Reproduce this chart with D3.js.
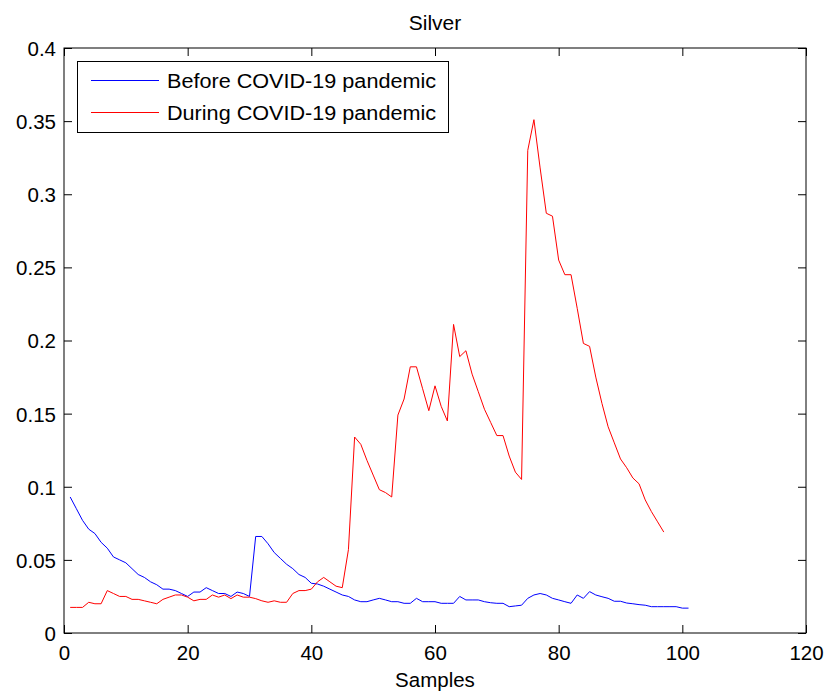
<!DOCTYPE html>
<html>
<head>
<meta charset="utf-8">
<script src="https://cdn.jsdelivr.net/npm/d3@7"></script>
<style>
  html, body { margin: 0; padding: 0; background: #fff; }
  svg { display: block; }
  text { font-family: "Liberation Sans", Arial, Helvetica, sans-serif; fill: #000; }
</style>
</head>
<body>
<svg id="chart" width="826" height="692"></svg>
<script>
// ---- data ----
const title = "Silver";
const xLabel = "Samples";
const seriesNames = ["Before COVID-19 pandemic", "During COVID-19 pandemic"];
const xTicks = [0, 20, 40, 60, 80, 100, 120];
const yTicks = [0, 0.05, 0.1, 0.15, 0.2, 0.25, 0.3, 0.35, 0.4];

const beforeValues = [
  0.093, 0.085, 0.077, 0.071, 0.068, 0.062, 0.058, 0.052, 0.050, 0.048,
  0.044, 0.040, 0.038, 0.035, 0.033, 0.030, 0.030, 0.029, 0.027, 0.025,
  0.028, 0.028, 0.031, 0.029, 0.027, 0.027, 0.025, 0.028, 0.027, 0.025,
  0.066, 0.066, 0.061, 0.055, 0.051, 0.047, 0.044, 0.040, 0.038, 0.034,
  0.0335, 0.032, 0.030, 0.028, 0.026, 0.025, 0.0226, 0.0214, 0.0214, 0.0226,
  0.0237, 0.0226, 0.0214, 0.0214, 0.0203, 0.0203, 0.0237, 0.0214, 0.0214, 0.0214,
  0.0203, 0.0203, 0.0203, 0.025, 0.0226, 0.0226, 0.0226, 0.0214, 0.0207, 0.0203,
  0.0203, 0.018, 0.0185, 0.019, 0.0237, 0.026, 0.027, 0.026, 0.0237, 0.0226,
  0.0214, 0.0203, 0.026, 0.0237, 0.0283, 0.026, 0.0248, 0.0237, 0.0217, 0.0217,
  0.0205, 0.020, 0.0194, 0.019, 0.018, 0.018, 0.018, 0.018, 0.018, 0.017,
  0.017
];

const duringValues = [
  0.0175, 0.0175, 0.0175, 0.021, 0.020, 0.020, 0.029, 0.027, 0.025, 0.025,
  0.023, 0.023, 0.022, 0.021, 0.020, 0.023, 0.0245, 0.026, 0.026, 0.0245,
  0.022, 0.023, 0.023, 0.026, 0.0245, 0.026, 0.0235, 0.026, 0.0245, 0.0245,
  0.0235, 0.022, 0.021, 0.022, 0.021, 0.021, 0.027, 0.029, 0.029, 0.030,
  0.035, 0.038, 0.035, 0.032, 0.031, 0.057, 0.134, 0.129, 0.118, 0.108,
  0.098, 0.096, 0.093, 0.149, 0.160, 0.182, 0.182, 0.167, 0.152, 0.169,
  0.155, 0.145, 0.211, 0.189, 0.193, 0.177, 0.165, 0.153, 0.144, 0.135,
  0.135, 0.121, 0.110, 0.105, 0.330, 0.351, 0.318, 0.287, 0.285, 0.255,
  0.245, 0.245, 0.222, 0.198, 0.196, 0.175, 0.157, 0.141, 0.130, 0.119,
  0.113, 0.106, 0.102, 0.091, 0.083, 0.076, 0.069
];

const seriesColors = ["#0000ff", "#ff0000"];

// ---- layout ----
const plotL = 64, plotR = 806, plotT = 48, plotB = 633;
const fontSize = 20.5;
const svg = d3.select("#chart");

const x = d3.scaleLinear().domain([0, 120]).range([plotL, plotR]);
const y = d3.scaleLinear().domain([0, 0.4]).range([plotB, plotT]);

const fmt = d3.format("~g");

function styleAxis(g, labels) {
  g.select(".domain").remove();
  g.selectAll(".tick line").attr("stroke", "#000").attr("stroke-width", 1);
  if (!labels) g.selectAll(".tick text").remove();
}

// bottom axis
const gx = svg.append("g")
  .attr("transform", `translate(0,${plotB})`)
  .call(d3.axisBottom(x).tickValues(xTicks).tickFormat(fmt).tickSizeInner(-8).tickSizeOuter(0).tickPadding(0));
styleAxis(gx, true);
gx.selectAll(".tick text")
  .attr("y", 27).attr("dy", null)
  .attr("font-size", fontSize);

// top axis (no labels)
const gt = svg.append("g")
  .attr("transform", `translate(0,${plotT})`)
  .call(d3.axisTop(x).tickValues(xTicks).tickSizeInner(-8).tickSizeOuter(0));
styleAxis(gt, false);

// left axis
const gy = svg.append("g")
  .attr("transform", `translate(${plotL},0)`)
  .call(d3.axisLeft(y).tickValues(yTicks).tickFormat(fmt).tickSizeInner(-8).tickSizeOuter(0));
styleAxis(gy, true);
gy.selectAll(".tick text")
  .attr("x", -8).attr("dy", "0.36em")
  .attr("font-size", fontSize)
  .attr("text-anchor", "end");

// right axis (no labels)
const gr = svg.append("g")
  .attr("transform", `translate(${plotR},0)`)
  .call(d3.axisRight(y).tickValues(yTicks).tickSizeInner(-8).tickSizeOuter(0));
styleAxis(gr, false);

// lines
const line = d3.line()
  .x((d, i) => x(i + 1))
  .y(d => y(d));

[beforeValues, duringValues].forEach((vals, k) => {
  svg.append("path")
    .datum(vals)
    .attr("fill", "none")
    .attr("stroke", seriesColors[k])
    .attr("stroke-width", 1)
    .attr("stroke-linejoin", "round")
    .attr("d", line);
});

// frame
svg.append("rect")
  .attr("x", plotL).attr("y", plotT)
  .attr("width", plotR - plotL).attr("height", plotB - plotT)
  .attr("fill", "none").attr("stroke", "#000").attr("stroke-width", 1);

// title & x label
svg.append("text")
  .attr("x", (plotL + plotR) / 2).attr("y", 30)
  .attr("text-anchor", "middle").attr("font-size", 21)
  .text(title);

svg.append("text")
  .attr("x", (plotL + plotR) / 2).attr("y", 687)
  .attr("text-anchor", "middle").attr("font-size", fontSize)
  .text(xLabel);

// legend
const lg = svg.append("g");
lg.append("rect")
  .attr("x", 77.5).attr("y", 61.5).attr("width", 371).attr("height", 71)
  .attr("fill", "#fff").attr("stroke", "#000").attr("stroke-width", 1);
const legendRows = [80.5, 112.5];
seriesNames.forEach((name, k) => {
  lg.append("line")
    .attr("x1", 91).attr("x2", 159)
    .attr("y1", legendRows[k]).attr("y2", legendRows[k])
    .attr("stroke", seriesColors[k]).attr("stroke-width", 1);
  lg.append("text")
    .attr("transform", `translate(167,${legendRows[k] + 7}) scale(1.03,1)`)
    .attr("font-size", 21)
    .text(name);
});
</script>
</body>
</html>
